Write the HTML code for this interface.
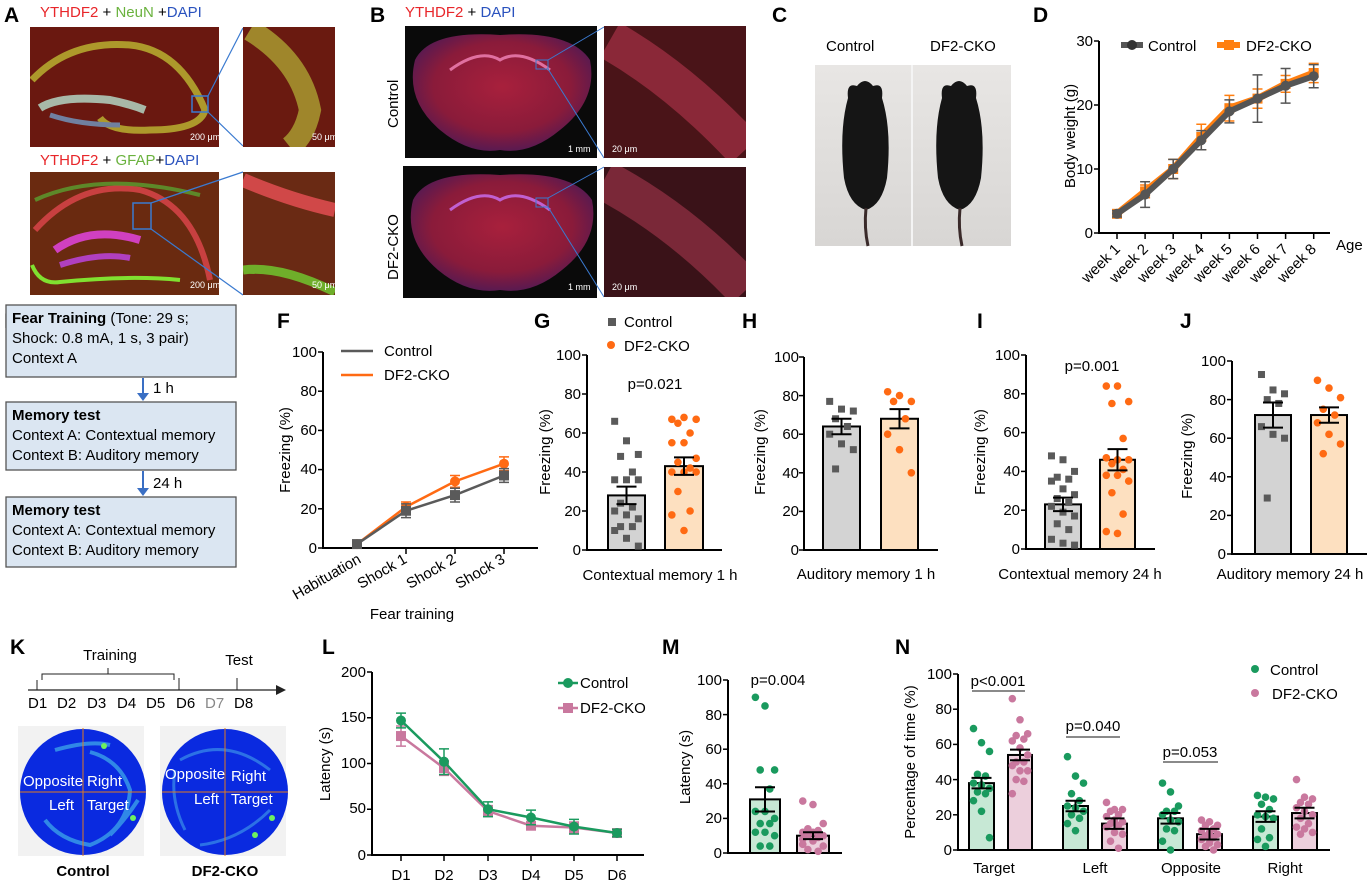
<!DOCTYPE html>
<html><head><meta charset="utf-8">
<style>
html,body{margin:0;padding:0;background:#fff;}
svg{display:block;font-family:"Liberation Sans",Arial,sans-serif;}
.pl{font-size:21px;font-weight:bold;}
.t{font-size:15px;}
.tk{font-size:15px;text-anchor:end;}
.sm{font-size:14px;}
</style></head><body>
<svg id="s" width="1367" height="883" viewBox="0 0 1367 883" xmlns="http://www.w3.org/2000/svg">
<defs>
<radialGradient id="brain" cx="50%" cy="45%" r="55%"><stop offset="0" stop-color="#a8203c"/><stop offset="0.7" stop-color="#8a1b3a"/><stop offset="1" stop-color="#5a1a50"/></radialGradient>
<linearGradient id="mouse" x1="0" y1="0" x2="0" y2="1"><stop offset="0" stop-color="#e8e6e4"/><stop offset="1" stop-color="#d8d6d4"/></linearGradient>
<clipPath id="c1"><rect x="30" y="27" width="189" height="120"/></clipPath>
<clipPath id="c2"><rect x="243" y="27" width="92" height="120"/></clipPath>
<clipPath id="c3"><rect x="30" y="172" width="189" height="123"/></clipPath>
<clipPath id="c4"><rect x="243" y="172" width="92" height="123"/></clipPath>
<clipPath id="c5"><rect x="604" y="26" width="142" height="132"/></clipPath>
<clipPath id="c6"><rect x="604" y="167" width="142" height="130"/></clipPath>
</defs>
<!-- Panel A -->
<text x="4" y="22" class="pl">A</text>
<text x="40" y="17" class="t"><tspan fill="#e8262a">YTHDF2</tspan> + <tspan fill="#6ab23e">NeuN</tspan> +<tspan fill="#2a52be">DAPI</tspan></text>
<g clip-path="url(#c1)">
<rect x="30" y="27" width="189" height="120" fill="#6a1810"/>
<path d="M32 80 Q70 40 130 45 Q180 50 205 110 Q200 130 150 130 Q110 132 100 118" stroke="#b8b030" stroke-width="7" fill="none" opacity="0.85"/>
<path d="M40 108 Q60 95 110 100 Q130 104 145 110" stroke="#a8b8a8" stroke-width="8" fill="none"/>
<path d="M50 115 Q80 125 120 125" stroke="#7080a0" stroke-width="5" fill="none"/>
</g>
<rect x="192" y="96" width="16" height="16" fill="none" stroke="#3a7ad0" stroke-width="1.5"/>
<line x1="208" y1="96" x2="243" y2="28" stroke="#3a7ad0" stroke-width="1.2"/><line x1="208" y1="112" x2="243" y2="146" stroke="#3a7ad0" stroke-width="1.2"/>
<g clip-path="url(#c2)">
<rect x="243" y="27" width="92" height="120" fill="#6a1a10"/>
<path d="M250 30 Q300 60 310 110 Q305 135 290 147" stroke="#a89a30" stroke-width="22" fill="none" opacity="0.85"/>
</g>
<text x="190" y="140" font-size="9" fill="#fff">200 μm</text><text x="312" y="140" font-size="9" fill="#fff">50 μm</text>
<text x="40" y="165" class="t"><tspan fill="#e8262a">YTHDF2</tspan> + <tspan fill="#6ab23e">GFAP</tspan>+<tspan fill="#2a52be">DAPI</tspan></text>
<g clip-path="url(#c3)">
<rect x="30" y="172" width="189" height="123" fill="#6a2a10"/>
<path d="M35 230 Q80 180 140 190 Q195 205 210 280" stroke="#c84040" stroke-width="6" fill="none"/>
<path d="M35 200 Q100 170 200 195" stroke="#5aa030" stroke-width="4" fill="none" opacity="0.8"/>
<path d="M55 250 Q90 225 140 240" stroke="#d040c0" stroke-width="8" fill="none"/>
<path d="M60 265 Q100 252 130 258" stroke="#b040c0" stroke-width="6" fill="none"/>
<path d="M32 265 Q40 285 60 282 Q130 275 180 280" stroke="#80e030" stroke-width="4" fill="none"/>
</g>
<rect x="133" y="203" width="18" height="26" fill="none" stroke="#3a7ad0" stroke-width="1.5"/>
<line x1="151" y1="203" x2="243" y2="172" stroke="#3a7ad0" stroke-width="1.2"/><line x1="151" y1="229" x2="243" y2="295" stroke="#3a7ad0" stroke-width="1.2"/>
<g clip-path="url(#c4)">
<rect x="243" y="172" width="92" height="123" fill="#6a2a14"/>
<path d="M243 180 Q290 200 335 210" stroke="#d04848" stroke-width="14" fill="none"/>
<path d="M243 270 Q280 265 335 292" stroke="#70d030" stroke-width="9" fill="none" opacity="0.8"/>
</g>
<text x="190" y="288" font-size="9" fill="#fff">200 μm</text><text x="312" y="288" font-size="9" fill="#fff">50 μm</text>
<!-- Panel B -->
<text x="370" y="22" class="pl">B</text>
<text x="405" y="17" class="t"><tspan fill="#e8262a">YTHDF2</tspan> + <tspan fill="#2a52be">DAPI</tspan></text>
<text transform="translate(398,128) rotate(-90)" class="t">Control</text>
<text transform="translate(398,280) rotate(-90)" class="t">DF2-CKO</text>
<rect x="405" y="26" width="192" height="132" fill="#0a0a0a"/>
<path d="M415 60 Q430 30 500 35 Q570 30 590 60 Q598 100 560 130 Q530 155 500 150 Q470 155 440 130 Q405 100 415 60Z" fill="url(#brain)"/>
<path d="M450 70 Q480 48 500 60 Q520 48 550 70" stroke="#e070a0" stroke-width="3" fill="none"/>
<rect x="403" y="166" width="194" height="132" fill="#0a0a0a"/>
<path d="M413 200 Q428 170 500 175 Q572 170 592 200 Q600 240 562 270 Q532 295 500 290 Q468 295 438 270 Q403 240 413 200Z" fill="url(#brain)"/>
<path d="M450 210 Q480 188 500 200 Q520 188 550 210" stroke="#c060d0" stroke-width="3" fill="none"/>
<rect x="536" y="60" width="12" height="9" fill="none" stroke="#3a7ad0"/><rect x="536" y="198" width="12" height="9" fill="none" stroke="#3a7ad0"/>
<line x1="548" y1="60" x2="604" y2="27" stroke="#3a7ad0"/><line x1="548" y1="69" x2="604" y2="158" stroke="#3a7ad0"/>
<line x1="548" y1="198" x2="604" y2="167" stroke="#3a7ad0"/><line x1="548" y1="207" x2="604" y2="297" stroke="#3a7ad0"/>
<g clip-path="url(#c5)">
<rect x="604" y="26" width="142" height="132" fill="#4a1418"/>
<path d="M610 40 Q680 80 745 150" stroke="#8a2838" stroke-width="40" fill="none"/>
</g>
<g clip-path="url(#c6)">
<rect x="604" y="167" width="142" height="130" fill="#3a1218"/>
<path d="M604 180 Q680 220 746 290" stroke="#7a2838" stroke-width="40" fill="none"/>
</g>
<text x="568" y="152" font-size="9" fill="#fff">1 mm</text><text x="568" y="290" font-size="9" fill="#fff">1 mm</text>
<text x="612" y="152" font-size="9" fill="#fff">20 μm</text><text x="612" y="290" font-size="9" fill="#fff">20 μm</text>
<!-- Panel C -->
<text x="772" y="22" class="pl">C</text>
<text x="826" y="51" class="t">Control</text><text x="930" y="51" class="t">DF2-CKO</text>
<rect x="815" y="65" width="196" height="181" fill="url(#mouse)"/>
<line x1="912" y1="65" x2="912" y2="246" stroke="#f4f4f4" stroke-width="2"/>
<path d="M848 98 Q846 82 857 86 Q865 76 873 86 Q884 82 882 98 Q892 130 887 178 Q882 205 866 210 Q849 205 844 178 Q839 130 848 98Z" fill="#151515"/>
<path d="M866 208 Q864 228 868 246" stroke="#3a2a2a" stroke-width="3" fill="none"/>
<path d="M942 98 Q940 82 951 86 Q959 76 967 86 Q978 82 976 98 Q986 130 981 178 Q976 205 960 210 Q943 205 938 178 Q933 130 942 98Z" fill="#151515"/>
<path d="M960 208 Q958 228 962 246" stroke="#3a2a2a" stroke-width="3" fill="none"/>
<!-- Panel D -->
<text x="1033" y="22" class="pl">D</text>
<text class="tk" x="1093" y="238">0</text><text class="tk" x="1093" y="174">10</text><text class="tk" x="1093" y="110">20</text><text class="tk" x="1093" y="46">30</text>
<text transform="translate(1075,136) rotate(-90)" class="t" text-anchor="middle">Body weight (g)</text>
<text x="1148" y="51" class="t">Control</text><text x="1246" y="51" class="t">DF2-CKO</text>
<text x="1336" y="250" class="t">Age</text>
<g class="t" text-anchor="end">
<text transform="translate(1121,250) rotate(-45)">week 1</text><text transform="translate(1149,250) rotate(-45)">week 2</text>
<text transform="translate(1177,250) rotate(-45)">week 3</text><text transform="translate(1205,250) rotate(-45)">week 4</text>
<text transform="translate(1233,250) rotate(-45)">week 5</text><text transform="translate(1261,250) rotate(-45)">week 6</text>
<text transform="translate(1289,250) rotate(-45)">week 7</text><text transform="translate(1317,250) rotate(-45)">week 8</text>
</g>
<!-- Panel E -->
<text x="4" y="328" class="pl">E</text>
<g stroke="#555" stroke-width="1.3" fill="#dbe6f2">
<rect x="6" y="305" width="230" height="72"/><rect x="6" y="402" width="230" height="68"/><rect x="6" y="497" width="230" height="70"/>
</g>
<text x="12" y="323" class="t"><tspan font-weight="bold">Fear Training</tspan> (Tone: 29 s;</text>
<text x="12" y="343" class="t">Shock: 0.8 mA, 1 s, 3 pair)</text>
<text x="12" y="363" class="t">Context A</text>
<text x="12" y="420" class="t" font-weight="bold">Memory test</text>
<text x="12" y="440" class="t">Context A: Contextual memory</text>
<text x="12" y="460" class="t">Context B: Auditory memory</text>
<text x="12" y="515" class="t" font-weight="bold">Memory test</text>
<text x="12" y="535" class="t">Context A: Contextual memory</text>
<text x="12" y="555" class="t">Context B: Auditory memory</text>
<g stroke="#3a6fc4" stroke-width="2" fill="#3a6fc4"><line x1="143" y1="378" x2="143" y2="394"/><line x1="143" y1="471" x2="143" y2="489"/></g>
<path d="M137 393 L149 393 L143 401Z M137 488 L149 488 L143 496Z" fill="#3a6fc4"/>
<text x="153" y="393" class="t">1 h</text><text x="153" y="488" class="t">24 h</text>
<!-- F -->
<text x="277" y="328" class="pl">F</text>
<g class="tk"><text x="317" y="553">0</text><text x="317" y="514">20</text><text x="317" y="474">40</text><text x="317" y="435">60</text><text x="317" y="396">80</text><text x="317" y="357">100</text></g>
<text transform="translate(290,450) rotate(-90)" class="t" text-anchor="middle">Freezing (%)</text>
<text x="384" y="356" class="t">Control</text><text x="384" y="380" class="t">DF2-CKO</text>
<g class="t" text-anchor="end" font-size="16">
<text transform="translate(362,562) rotate(-30)">Habituation</text><text transform="translate(408,562) rotate(-30)">Shock 1</text>
<text transform="translate(457,562) rotate(-30)">Shock 2</text><text transform="translate(506,562) rotate(-30)">Shock 3</text>
</g>
<text x="412" y="619" class="t" text-anchor="middle">Fear training</text>
<!-- G -->
<text x="534" y="328" class="pl">G</text>
<g class="tk"><text x="581" y="555">0</text><text x="581" y="516">20</text><text x="581" y="477">40</text><text x="581" y="438">60</text><text x="581" y="399">80</text><text x="581" y="360">100</text></g>
<text transform="translate(550,452) rotate(-90)" class="t" text-anchor="middle">Freezing (%)</text>
<rect x="608" y="318" width="8" height="8" fill="#5a5a5a"/><text x="624" y="327" class="t">Control</text>
<circle cx="611" cy="345" r="4" fill="#ff6a13"/><text x="624" y="351" class="t">DF2-CKO</text>
<text x="655" y="389" class="t" text-anchor="middle">p=0.021</text>
<text x="660" y="580" class="t" text-anchor="middle">Contextual memory 1 h</text>
<!-- H -->
<text x="742" y="328" class="pl">H</text>
<g class="tk"><text x="799" y="555">0</text><text x="799" y="516">20</text><text x="799" y="478">40</text><text x="799" y="439">60</text><text x="799" y="401">80</text><text x="799" y="362">100</text></g>
<text transform="translate(765,452) rotate(-90)" class="t" text-anchor="middle">Freezing (%)</text>
<text x="866" y="579" class="t" text-anchor="middle">Auditory memory 1 h</text>
<!-- I -->
<text x="977" y="328" class="pl">I</text>
<g class="tk"><text x="1020" y="554">0</text><text x="1020" y="515">20</text><text x="1020" y="476">40</text><text x="1020" y="437">60</text><text x="1020" y="399">80</text><text x="1020" y="360">100</text></g>
<text transform="translate(985,452) rotate(-90)" class="t" text-anchor="middle">Freezing (%)</text>
<text x="1092" y="371" class="t" text-anchor="middle">p=0.001</text>
<text x="1080" y="579" class="t" text-anchor="middle">Contextual memory 24 h</text>
<!-- J -->
<text x="1180" y="328" class="pl">J</text>
<g class="tk"><text x="1226" y="559">0</text><text x="1226" y="520">20</text><text x="1226" y="482">40</text><text x="1226" y="443">60</text><text x="1226" y="405">80</text><text x="1226" y="366">100</text></g>
<text transform="translate(1192,456) rotate(-90)" class="t" text-anchor="middle">Freezing (%)</text>
<text x="1290" y="579" class="t" text-anchor="middle">Auditory memory 24 h</text>
<!-- K -->
<text x="10" y="654" class="pl">K</text>
<text x="110" y="660" class="t" text-anchor="middle">Training</text>
<path d="M42 680 L42 674 L174 674 L174 680 M108 674 L108 668" stroke="#222" fill="none"/>
<line x1="28" y1="690" x2="278" y2="690" stroke="#222" stroke-width="1.3"/>
<path d="M276 685 L286 690 L276 695Z" fill="#222"/>
<line x1="37" y1="680" x2="37" y2="690" stroke="#222"/><line x1="179" y1="678" x2="179" y2="690" stroke="#222"/><line x1="237" y1="678" x2="237" y2="690" stroke="#222"/>
<text x="239" y="665" class="t" text-anchor="middle">Test</text>
<g class="t"><text x="28" y="708">D1</text><text x="57" y="708">D2</text><text x="87" y="708">D3</text><text x="117" y="708">D4</text><text x="146" y="708">D5</text><text x="176" y="708">D6</text><text x="205" y="708" fill="#888">D7</text><text x="234" y="708">D8</text></g>
<rect x="18" y="726" width="126" height="130" fill="#f2f2f2"/><rect x="160" y="726" width="126" height="130" fill="#f2f2f2"/>
<circle cx="83" cy="792" r="63" fill="#0a2ae0"/><circle cx="225" cy="792" r="63" fill="#0a2ae0"/>
<path d="M55 750 Q90 740 110 745 M90 752 Q120 760 130 790 Q128 830 90 845 Q60 840 45 820 M110 835 Q125 820 138 800" stroke="#3aa0e8" stroke-width="4" fill="none" opacity="0.8"/>
<path d="M180 760 Q225 735 270 770 M200 845 Q240 840 270 810 M175 770 Q170 800 185 830" stroke="#3a90e8" stroke-width="3" fill="none" opacity="0.7"/>
<circle cx="104" cy="746" r="3" fill="#6ef060"/><circle cx="133" cy="818" r="3" fill="#6ef060"/><circle cx="272" cy="818" r="3" fill="#6ef060"/><circle cx="255" cy="835" r="3" fill="#6ef060"/>
<g stroke="#e07a20" stroke-width="1"><line x1="20" y1="792" x2="146" y2="792"/><line x1="83" y1="728" x2="83" y2="856"/><line x1="162" y1="792" x2="288" y2="792"/><line x1="225" y1="728" x2="225" y2="856"/></g>
<g fill="#fff" font-size="15"><text x="23" y="786">Opposite</text><text x="87" y="786">Right</text><text x="49" y="810">Left</text><text x="87" y="810">Target</text>
<text x="165" y="779">Opposite</text><text x="231" y="781">Right</text><text x="194" y="804">Left</text><text x="231" y="804">Target</text></g>
<text x="83" y="876" class="t" text-anchor="middle" font-weight="bold" font-size="16">Control</text>
<text x="225" y="876" class="t" text-anchor="middle" font-weight="bold" font-size="16">DF2-CKO</text>
<!-- L -->
<text x="322" y="654" class="pl">L</text>
<g class="tk"><text x="366" y="860">0</text><text x="366" y="813">50</text><text x="366" y="768">100</text><text x="366" y="722">150</text><text x="366" y="677">200</text></g>
<text transform="translate(330,764) rotate(-90)" class="t" text-anchor="middle">Latency (s)</text>
<g class="t" text-anchor="middle"><text x="401" y="880">D1</text><text x="444" y="880">D2</text><text x="488" y="880">D3</text><text x="531" y="880">D4</text><text x="574" y="880">D5</text><text x="617" y="880">D6</text></g>
<text x="580" y="688" class="t">Control</text><text x="580" y="713" class="t">DF2-CKO</text>
<!-- M -->
<text x="662" y="654" class="pl">M</text>
<g class="tk"><text x="722" y="858">0</text><text x="722" y="823">20</text><text x="722" y="789">40</text><text x="722" y="754">60</text><text x="722" y="720">80</text><text x="722" y="685">100</text></g>
<text transform="translate(690,767) rotate(-90)" class="t" text-anchor="middle">Latency (s)</text>
<text x="778" y="685" class="t" text-anchor="middle">p=0.004</text>
<!-- N -->
<text x="895" y="654" class="pl">N</text>
<g class="tk"><text x="952" y="855">0</text><text x="952" y="820">20</text><text x="952" y="785">40</text><text x="952" y="749">60</text><text x="952" y="714">80</text><text x="952" y="679">100</text></g>
<text transform="translate(915,762) rotate(-90)" class="t" text-anchor="middle">Percentage of time (%)</text>
<circle cx="1255" cy="669" r="4" fill="#1a9a5e"/><text x="1270" y="675" class="t">Control</text>
<circle cx="1255" cy="693" r="4" fill="#c9789e"/><text x="1272" y="699" class="t">DF2-CKO</text>
<text x="998" y="686" class="t" text-anchor="middle">p&lt;0.001</text>
<text x="1093" y="731" class="t" text-anchor="middle">p=0.040</text>
<text x="1190" y="757" class="t" text-anchor="middle">p=0.053</text>
<g class="t" text-anchor="middle"><text x="994" y="873">Target</text><text x="1095" y="873">Left</text><text x="1191" y="873">Opposite</text><text x="1285" y="873">Right</text></g>
<g id="dyn"></g>
</svg>
<script>
var NS="http://www.w3.org/2000/svg",G=document.getElementById('dyn');
function el(t,a){var e=document.createElementNS(NS,t);for(var k in a)e.setAttribute(k,a[k]);G.appendChild(e);return e;}
function axes(x,y0,ytop,xend,nt,ticks){el('line',{x1:x,y1:y0,x2:x,y2:ytop,stroke:'#000','stroke-width':2});el('line',{x1:x-1,y1:y0,x2:xend,y2:y0,stroke:'#000','stroke-width':2});
 for(var i=0;i<=nt;i++){var y=y0+(ytop-y0)*i/nt;el('line',{x1:x-5,y1:y,x2:x,y2:y,stroke:'#000','stroke-width':1.5});}
 if(ticks)ticks.forEach(function(t){el('line',{x1:t,y1:y0,x2:t,y2:y0+6,stroke:'#000','stroke-width':1.5});});}
function bar(x1,x2,y0,sc,v,fill,dots,col,shape,err){var h=v*sc;el('rect',{x:x1,y:y0-h,width:x2-x1,height:h,fill:fill,stroke:'#000','stroke-width':2});
 var w=x2-x1,n=dots.length;dots.forEach(function(d,i){var cx=x1+w*0.18+((i*7)%5)/4*w*0.64,cy=y0-d*sc;
  if(shape=='s')el('rect',{x:cx-3.5,y:cy-3.5,width:7,height:7,fill:col});else el('circle',{cx:cx,cy:cy,r:3.8,fill:col});});
 var m=(x1+x2)/2,e=(err||4)*sc;el('path',{d:'M'+(m-10)+' '+(y0-h-e)+'h20M'+m+' '+(y0-h-e)+'v'+2*e+'M'+(m-10)+' '+(y0-h+e)+'h20',stroke:'#000','stroke-width':2,fill:'none'});}
function line(xs,vals,y0,sc,col,w,mk,err){var d='';xs.forEach(function(x,i){d+=(i?'L':'M')+x+' '+(y0-vals[i]*sc);});
 el('path',{d:d,stroke:col,'stroke-width':w,fill:'none'});
 xs.forEach(function(x,i){var y=y0-vals[i]*sc,e=err[i]*sc;el('path',{d:'M'+(x-5)+' '+(y-e)+'h10M'+x+' '+(y-e)+'v'+2*e+'M'+(x-5)+' '+(y+e)+'h10',stroke:col,'stroke-width':1.5,fill:'none'});
  if(mk=='s')el('rect',{x:x-5,y:y-5,width:10,height:10,fill:col});else el('circle',{cx:x,cy:y,r:5,fill:col});});}
var GR='#5a5a5a',OR='#ff6a13',GN='#1a9a5e',PK='#c9789e';
var dx=[];for(var i=0;i<8;i++)dx.push(1117+28.1*i);
axes(1099,233,41,1330,3,dx);
line(dx,[3,6.5,10,15,19.5,21,23.3,25],233,6.4,'#ff7f10',7,'s',[.5,1,1.5,2,2,1.5,1.3,1.5]);
line(dx,[3,6,10,14.5,19,21,23,24.5],233,6.4,'#555',6,'c',[.5,2,1.5,1.5,1.8,3.7,2.7,1.8]);
el('line',{x1:1121,y1:45,x2:1143,y2:45,stroke:'#555','stroke-width':6});el('circle',{cx:1132,cy:45,r:5,fill:'#333'});
el('line',{x1:1217,y1:45,x2:1240,y2:45,stroke:'#ff7f10','stroke-width':6});el('rect',{x:1224,y:40,width:10,height:10,fill:'#ff7f10'});
var fx=[357,406,455,504];axes(323,548,352,538,5,fx.slice(1));
line(fx,[2,21,34,43],548,1.96,OR,2.5,'c',[1,2.5,3,3.5]);
line(fx,[2,19,27,37],548,1.96,GR,2.5,'s',[1,3.5,3.5,3.5]);
el('line',{x1:341,y1:351,x2:373,y2:351,stroke:GR,'stroke-width':2.5});el('line',{x1:341,y1:375,x2:373,y2:375,stroke:OR,'stroke-width':2.5});
axes(587,550,355,722,5);
bar(608,645,550,1.95,28,'#d3d3d3',[66,56,49,48,40,36,36,36,24,22,20,18,16,12,12,10,6,2],GR,'s',4.5);
bar(665,703,550,1.95,43,'#fde0c0',[67,68,67,65,60,55,55,47,45,42,40,40,40,30,20,18,10],OR,'c',4.5);
axes(804,550,357,938,5);
bar(823,860,550,1.93,64,'#d3d3d3',[77,73,72,68,64,60,55,52,42],GR,'s',4);
bar(881,918,550,1.93,68,'#fde0c0',[82,80,77,77,68,60,52,40],OR,'c',5);
axes(1026,549,355,1155,5);
bar(1045,1081,549,1.94,23,'#d3d3d3',[48,46,40,37,36,35,31,28,26,24,22,19,17,13,10,5,3,2],GR,'s',3.5);
bar(1100,1135,549,1.94,46,'#fde0c0',[84,84,76,75,57,47,46,46,44,41,38,38,35,29,18,9,8],OR,'c',5.5);
axes(1232,554,361,1367,5);
bar(1255,1291,554,1.93,72,'#d3d3d3',[93,85,83,80,78,66,62,60,29],GR,'s',6.5);
bar(1311,1347,554,1.93,72,'#fde0c0',[90,86,81,75,72,68,62,57,52],OR,'c',4);
var lx=[401,444,488,531,574,617];axes(372,855,672,644,4,lx);
line(lx,[130,95,48,32,30,24],855,0.915,PK,2.5,'s',[11,8,6,3,6,4]);
line(lx,[147,102,50,41,31,24],855,0.915,GN,2.5,'c',[8,14,8,8,8,4]);
el('line',{x1:558,y1:683,x2:578,y2:683,stroke:GN,'stroke-width':2.5});el('circle',{cx:568,cy:683,r:5,fill:GN});
el('line',{x1:558,y1:708,x2:578,y2:708,stroke:PK,'stroke-width':2.5});el('rect',{x:563,y:703,width:10,height:10,fill:PK});
axes(728,853,680,842,5);
bar(750,780,853,1.73,31,'#c7e8d5',[90,85,48,48,37,24,24,20,17,17,12,12,10,4,4],GN,'c',7);
bar(797,829,853,1.73,10,'#eccfdc',[30,28,17,14,13,12,12,10,10,9,8,7,4,2,1,5],PK,'c',2);
axes(958,850,674,1330,5);
var N=[[969,994,38,[69,61,56,43,42,38,37,35,33,32,28,22,7]],[1008,1032,54,[86,74,66,65,63,62,58,54,50,50,48,45,45,40,39,32]],
[1063,1088,25,[53,42,38,32,28,25,24,22,20,18,15,11]],[1102,1127,15,[27,23,23,22,20,19,17,16,15,14,13,10,9,5,1]],
[1158,1183,18,[38,33,25,22,22,20,17,16,12,11,5,0]],[1197,1222,9,[17,16,14,14,12,11,10,9,8,7,6,4,3,2,0]],
[1253,1278,19,[31,30,29,26,23,20,19,18,12,7,6,2]],[1292,1317,21,[40,30,29,27,26,24,22,20,18,15,13,12,10,9]]];
N.forEach(function(b,i){bar(b[0],b[1],850,1.76,b[2],i%2?'#eccfdc':'#c7e8d5',b[3],i%2?PK:GN,'c',3);});
[[972,1025,691],[1066,1120,737],[1163,1218,762]].forEach(function(l){el('line',{x1:l[0],y1:l[2],x2:l[1],y2:l[2],stroke:'#444','stroke-width':1.3});});
</script>
</body></html>
